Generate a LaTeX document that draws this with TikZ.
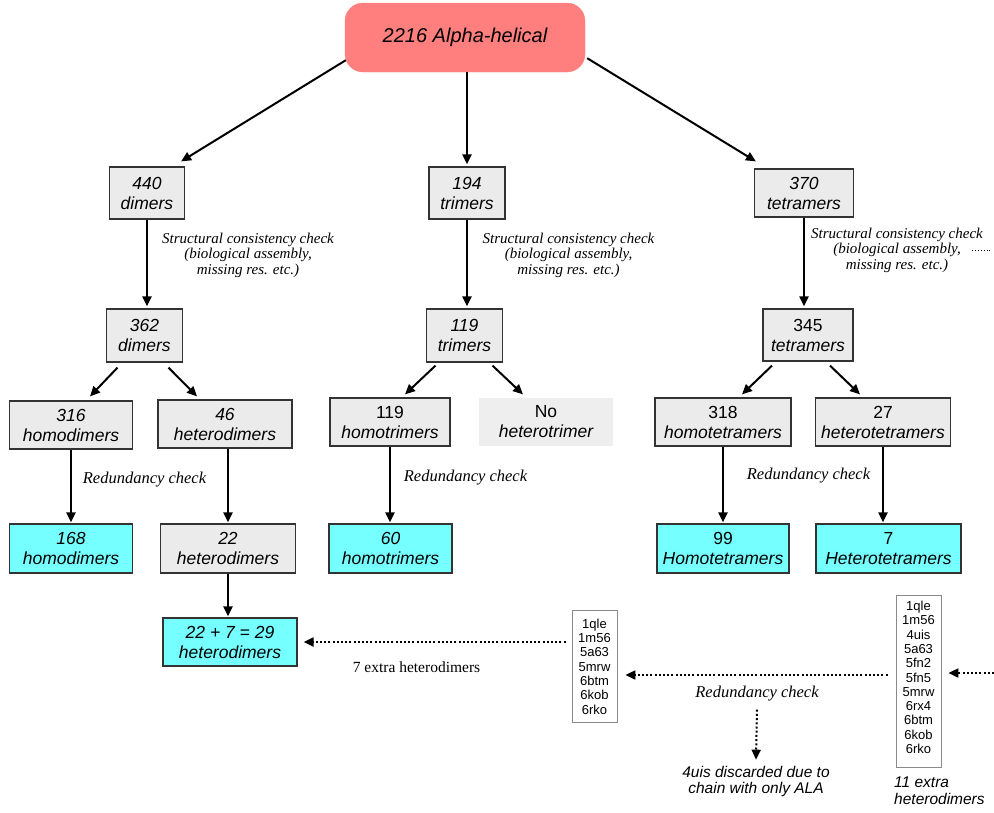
\documentclass[tikz,border=0pt]{standalone}
\usepackage{fontspec}
\setmainfont{Liberation Serif}
\newfontfamily\hv{Liberation Sans}
\usetikzlibrary{arrows.meta,calc}
\definecolor{rootred}{HTML}{FF7F7F}
\definecolor{boxgray}{HTML}{EBEBEB}
\definecolor{nogray}{HTML}{EEEEEE}
\definecolor{boxcyan}{HTML}{75FFFF}
\definecolor{edgec}{HTML}{333333}
\definecolor{listedge}{HTML}{8A8A8A}
\begin{document}
\begin{tikzpicture}[x=1pt,y=-1pt,
  rootbox/.style={fill=rootred,draw=rootred,rounded corners=18pt,minimum width=240pt,minimum height=69pt,inner sep=0pt,font=\hv\itshape\fontsize{20}{22}\selectfont},
  graybox/.style={draw=edgec,line width=1.2pt,fill=boxgray,inner sep=0pt,align=center,minimum height=48pt,font=\hv\fontsize{17.5}{20}\selectfont},
  cyanbox/.style={graybox,fill=boxcyan},
  plainbox/.style={graybox,draw=none,fill=nogray},
  listbox/.style={draw=listedge,line width=0.8pt,inner sep=0pt,align=center,minimum width=45pt,font=\hv\fontsize{13}{14.3}\selectfont},
  checklabel/.style={inner sep=0pt,align=center,font=\itshape\fontsize{15}{15.5}\selectfont},
  redlabel/.style={inner sep=0pt,font=\itshape\fontsize{16.5}{18}\selectfont},
  sanslabel/.style={inner sep=0pt,font=\hv\itshape\fontsize{15.5}{16.8}\selectfont},
  arr/.style={-{Triangle[length=10pt,width=9pt]},line width=2pt},
  darr/.style={-{Triangle[length=10pt,width=9pt]},line width=2pt,dash pattern=on 2pt off 2.2pt}
]
\useasboundingbox (0,0) rectangle (994,812);

% root
\node[rootbox] (root) at (465,37.5) {2216 Alpha-helical};

% level 1
\node[graybox,minimum width=75pt,minimum height=52pt] (d440) at (147,193) {\itshape 440\\\itshape dimers};
\node[graybox,minimum width=76pt,minimum height=52pt] (t194) at (467,193) {\itshape 194\\\itshape trimers};
\node[graybox,minimum width=99pt,minimum height=48pt] (t370) at (804,193) {\itshape 370\\\itshape tetramers};

% structural checks
\node[checklabel] (sc1) at (248,255) {Structural consistency check\\(biological assembly,\\missing res. etc.)};
\node[checklabel] (sc2) at (568.5,255) {Structural consistency check\\(biological assembly,\\missing res. etc.)};
\node[checklabel] (sc3) at (897,250) {Structural consistency check\\(biological assembly,\\missing res. etc.)};
\coordinate (scout) at (992,250);

% level 2
\node[graybox,minimum width=76pt,minimum height=53pt] (d362) at (144.5,335.5) {\itshape 362\\\itshape dimers};
\node[graybox,minimum width=76pt,minimum height=53pt] (t119) at (464.5,335.5) {\itshape 119\\\itshape trimers};
\node[graybox,minimum width=90pt,minimum height=52pt] (t345) at (808,335) {345\\\itshape tetramers};

% level 3
\node[graybox,minimum width=123pt] (hd316) at (71,425) {\itshape 316\\\itshape homodimers};
\node[graybox,minimum width=134pt] (hd46) at (225,424) {\itshape 46\\\itshape heterodimers};
\node[graybox,minimum width=120pt] (ht119) at (390,422) {119\\\itshape homotrimers};
\node[plainbox,minimum width=134pt] (noht) at (546,422) {No\\\itshape heterotrimer};
\node[graybox,minimum width=136pt] (htt318) at (723,422) {318\\\itshape homotetramers};
\node[graybox,minimum width=135pt] (htt27) at (883,422) {27\\\itshape heterotetramers};

% redundancy labels
\node[redlabel] (rc1) at (144.5,480) {Redundancy check};
\node[redlabel] (rc2) at (465.5,478) {Redundancy check};
\node[redlabel] (rc3) at (808.5,476) {Redundancy check};

% level 4
\node[cyanbox,minimum width=123pt,minimum height=49pt] (c168) at (71,548.5) {\itshape 168\\\itshape homodimers};
\node[graybox,minimum width=135pt,minimum height=49pt] (hd22) at (228,548.5) {\itshape 22\\\itshape heterodimers};
\node[cyanbox,minimum width=123pt,minimum height=49pt] (c60) at (390.5,548.5) {\itshape 60\\\itshape homotrimers};
\node[cyanbox,minimum width=132pt,minimum height=49pt] (c99) at (723,548.5) {99\\\itshape Homotetramers};
\node[cyanbox,minimum width=145pt,minimum height=49pt] (c7) at (888.5,548.5) {7\\\itshape Heterotetramers};

% final
\node[cyanbox,minimum width=134pt,minimum height=48pt] (c29) at (230,642) {\itshape 22 + 7 = 29\\\itshape heterodimers};
\node[inner sep=0pt,font=\fontsize{15.5}{17}\selectfont] (extra7) at (416.5,667) {7 extra heterodimers};

% lists
\node[listbox,minimum height=112pt] (list1) at (594.5,666.5) {1qle\\1m56\\5a63\\5mrw\\6btm\\6kob\\6rko};
\node[listbox,minimum height=172pt] (list2) at (918.5,681) {1qle\\1m56\\4uis\\5a63\\5fn2\\5fn5\\5mrw\\6rx4\\6btm\\6kob\\6rko\\[-7pt]};
\node[redlabel] (rc4) at (757,694) {Redundancy check};
\node[sanslabel,align=center] (disc) at (756,781.5) {4uis discarded due to\\chain with only ALA};
\node[sanslabel,align=left,anchor=west] (extra11) at (894,791) {11 extra\\heterodimers};
\coordinate (rin) at (994,673);

% connectors level 0 -> 1
\draw[arr] ($(root.south west)+(1,-12)$) -- ($(d440.north east)+(-4,-5)$);
\draw[arr] (root.south -| t194.north) -- ($(t194.north)+(0,-2)$);
\draw[arr] ($(root.south east)+(2,-14)$) -- ($(t370.north west)+(2,-7)$);

% level 1 -> 2
\draw[arr] (d440.south) -- ($(d440.south |- d362.north)+(0,-2)$);
\draw[arr] (t194.south) -- ($(t194.south |- t119.north)+(0,-2)$);
\draw[arr] (t370.south) -- ($(t370.south |- t345.north)+(0,-2)$);
\draw[dotted,line width=0.9pt] ($(scout)+(-20,0)$) -- (scout);

% level 2 -> 3
\draw[arr] ($(d362.south)+(-27,5)$) -- ($(hd316.north)+(19,-4)$);
\draw[arr] ($(d362.south)+(24,5)$) -- ($(hd46.north)+(-28,-3)$);
\draw[arr] ($(t119.south)+(-29,3)$) -- ($(ht119.north)+(15,-3)$);
\draw[arr] ($(t119.south)+(28,3)$) -- ($(noht.north)+(-23,-3)$);
\draw[arr] ($(t345.south)+(-36,4)$) -- ($(htt318.north)+(19,-3)$);
\draw[arr] ($(t345.south)+(22,4)$) -- ($(htt27.north)+(-23,-3)$);

% level 3 -> 4
\draw[arr] (hd316.south) -- ($(hd316.south |- c168.north)+(0,-1)$);
\draw[arr] (hd46.south -| hd22.north) -- ($(hd22.north)+(0,-1)$);
\draw[arr] (ht119.south) -- ($(ht119.south |- c60.north)+(0,-1)$);
\draw[arr] (htt318.south) -- ($(htt318.south |- c99.north)+(0,-1)$);
\draw[arr] (htt27.south) -- ($(htt27.south |- c7.north)+(0,-1)$);

% level 4 -> final
\draw[arr] (hd22.south) -- ($(hd22.south |- c29.north)+(0,-1)$);

% dotted arrows
\draw[darr] ($(list1.west |- c29.east)+(-6,0)$) -- ($(c29.east)+(6,0)$);
\draw[darr] ($(list2.west)+(-8,-6)$) -- ($(list1.east)+(8,8.5)$);
\draw[darr] (rin) -- ($(list2.east)+(7,-8)$);
\draw[darr] ($(rc4.south)+(0,8)$) -- ($(disc.north)+(0,-6)$);
\end{tikzpicture}
\end{document}
